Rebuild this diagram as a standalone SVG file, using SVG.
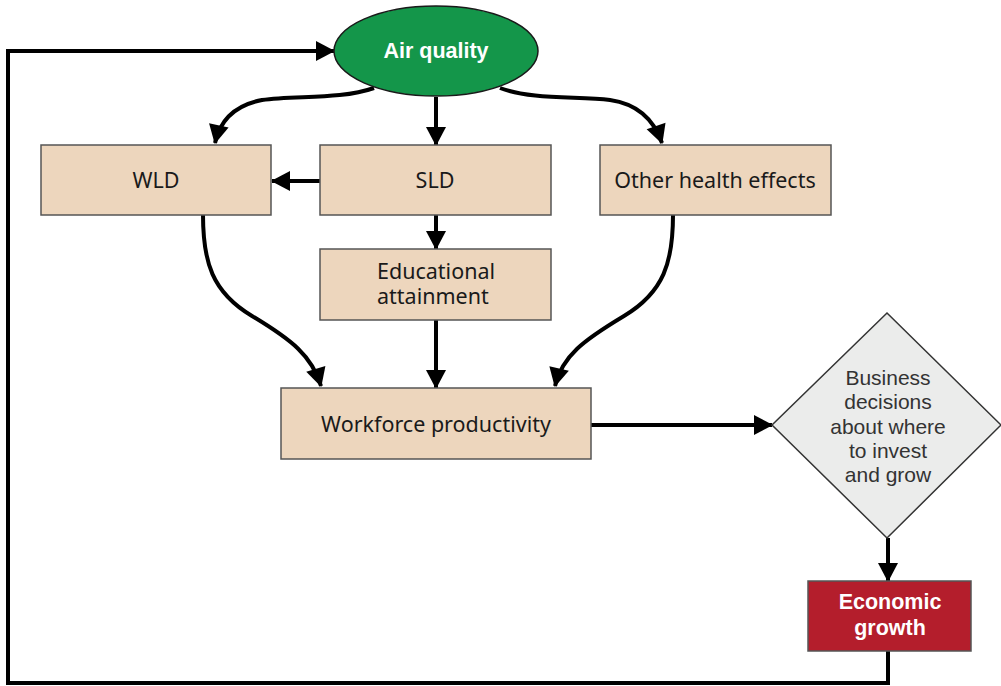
<svg xmlns="http://www.w3.org/2000/svg" width="1001" height="686" viewBox="0 0 1001 686">
<style>
.box{fill:#EDD6BD;stroke:#555;stroke-width:1.5}
.lbl{font-family:"Noto Sans","Open Sans",sans-serif;font-size:21.5px;fill:#1a1a1a;text-anchor:middle}
.dl{font-family:"Liberation Sans",Arial,sans-serif;font-size:21px;fill:#333;text-anchor:middle}
.wb{font-family:"Liberation Sans",Arial,sans-serif;font-size:21.5px;font-weight:bold;fill:#fff;text-anchor:middle}
.c{fill:none;stroke:#000;stroke-width:4;marker-end:url(#ah)}
</style>
<defs>
<marker id="ah" markerUnits="userSpaceOnUse" markerWidth="20" markerHeight="22" refX="18" refY="10" orient="auto" viewBox="0 0 20 20" overflow="visible">
<path d="M0,0 L19,10 L0,20 z" fill="#000"/>
</marker>
</defs>
<g id="connectors">
<path class="c" d="M888,651 V683 H8 V51 H334"/>
<path class="c" d="M374,88 C340,100 295,95 262,100 C236,105 220,120 215,143"/>
<path class="c" d="M436,97 V145"/>
<path class="c" d="M500,88 C532,100 578,96 610,100 C638,104 654,120 662,143"/>
<path class="c" d="M320,181 H272"/>
<path class="c" d="M436,215 V249"/>
<path class="c" d="M203,215 C203,262 212,292 252,316 C292,340 312,356 321,386"/>
<path class="c" d="M436,320 V388"/>
<path class="c" d="M673,215 C673,262 664,292 624,316 C584,340 562,356 555,386"/>
<path class="c" d="M591,425 H772"/>
<path class="c" d="M888,538 V581"/>
</g>
<g id="air-quality">
<ellipse cx="436" cy="51" rx="102" ry="45" fill="#14964A" stroke="#1a1a1a" stroke-width="1.5"/>
<text class="wb" x="436" y="58">Air quality</text>
</g>
<g id="wld">
<rect class="box" x="41" y="145" width="230" height="70"/>
<text class="lbl" x="156" y="188">WLD</text>
</g>
<g id="sld">
<rect class="box" x="320" y="145" width="231" height="70"/>
<text class="lbl" x="435" y="188">SLD</text>
</g>
<g id="other-health">
<rect class="box" x="600" y="145" width="231" height="70"/>
<text class="lbl" x="715" y="188">Other health effects</text>
</g>
<g id="educational">
<rect class="box" x="320" y="249" width="231" height="71"/>
<text class="lbl" style="text-anchor:start"><tspan x="377" y="279">Educational</tspan><tspan x="377" y="304">attainment</tspan></text>
</g>
<g id="workforce">
<rect class="box" x="281" y="388" width="310" height="71"/>
<text class="lbl" x="436" y="432">Workforce productivity</text>
</g>
<g id="business">
<polygon points="887,313 1001,425 887,538 772,425" fill="#EBECEB" stroke="#333" stroke-width="1.5"/>
<text class="dl" x="888" y="385">Business</text>
<text class="dl" x="888" y="409">decisions</text>
<text class="dl" x="888" y="434">about where</text>
<text class="dl" x="888" y="458">to invest</text>
<text class="dl" x="888" y="482">and grow</text>
</g>
<g id="economic-growth">
<rect x="808" y="581" width="163" height="70" fill="#B41E2C" stroke="#555" stroke-width="1.5"/>
<text class="wb" x="890" y="609">Economic</text>
<text class="wb" x="890" y="635">growth</text>
</g>
</svg>
